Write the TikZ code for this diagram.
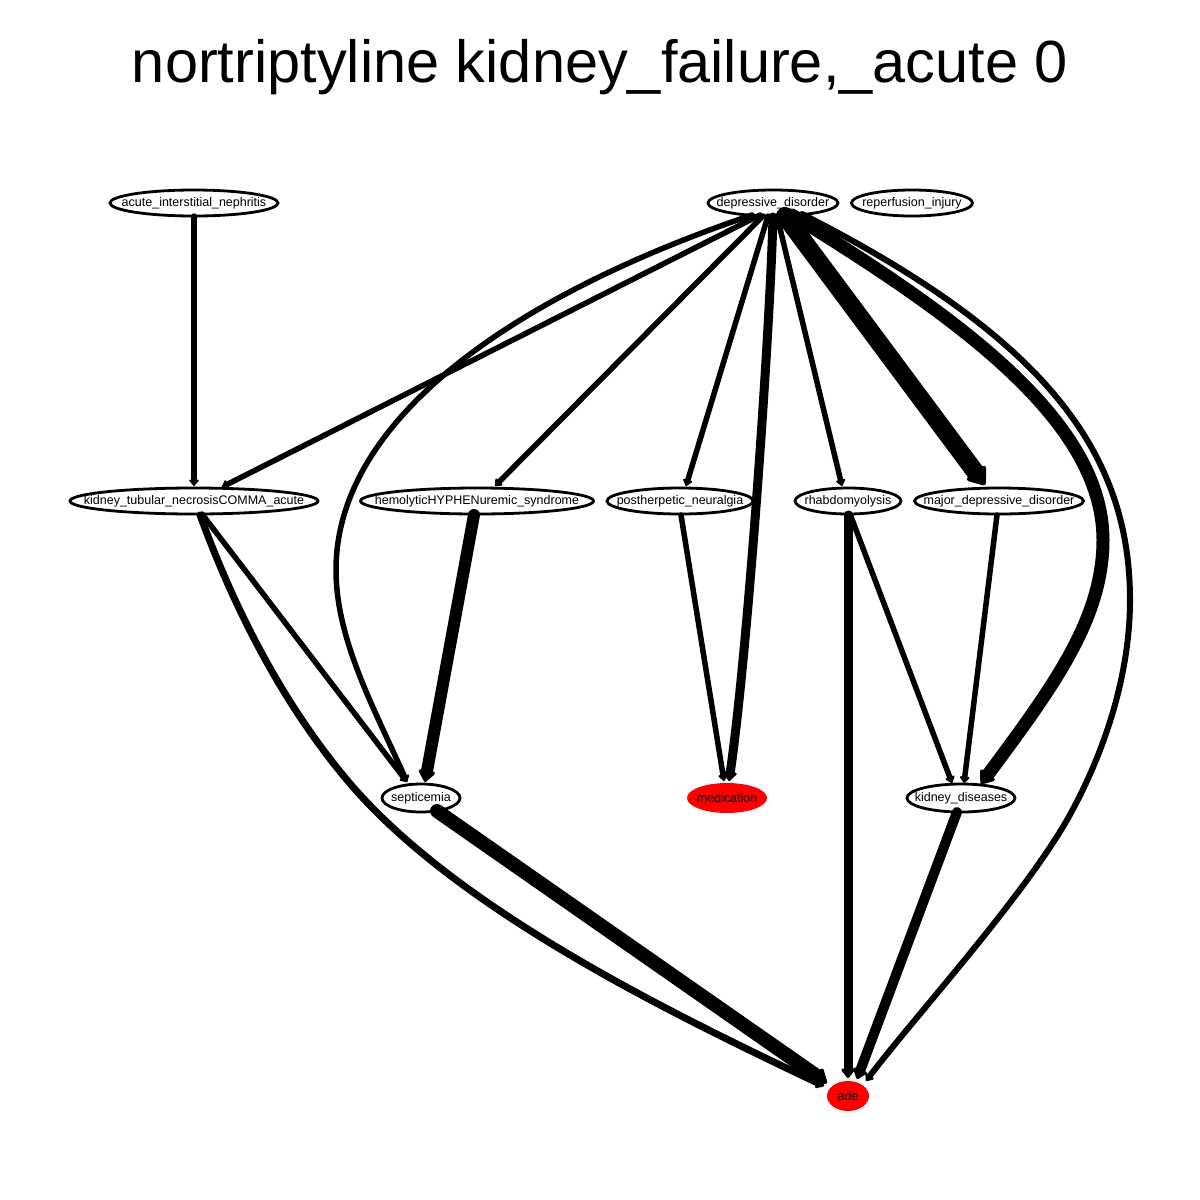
\documentclass[tikz,border=0pt]{standalone}
\usepackage{fontspec}
\usetikzlibrary{shapes.geometric,arrows.meta,calc}
\newfontfamily\lib{Liberation Sans}
\newcommand{\nodefont}{\lib\fontsize{12.5}{14}\selectfont}
\newcommand{\lbl}[1]{\makebox[0pt][c]{#1}}
\tikzset{
  nd/.style={ellipse, draw, line width=2.8pt, fill=white, inner sep=0pt, font=\nodefont},
  rednd/.style={ellipse, fill=red, inner sep=0pt, font=\nodefont},
  conn/.style={line width=#1, line cap=round, line join=round, -{Triangle[round,length=2pt 0.9,width=4pt 1.25]}},
}
\begin{document}
\begin{tikzpicture}[x=1pt,y=-1pt]
\useasboundingbox[fill=white] (0,0) rectangle (1200,1200);
\node[font=\lib\fontsize{59.5}{72}\selectfont, anchor=base] (title) at (600,82) {nortriptyline kidney\_failure,\_acute 0};

\node[nd, minimum width=168, minimum height=26] (ain) at (194,203) {\lbl{acute\_interstitial\_nephritis}};
\node[nd, minimum width=130, minimum height=26] (dd) at (773,203) {\lbl{depressive\_disorder}};
\node[nd, minimum width=121, minimum height=26] (ri) at (912,203) {\lbl{reperfusion\_injury}};
\node[nd, minimum width=248, minimum height=26] (ktn) at (194,501) {\lbl{kidney\_tubular\_necrosisCOMMA\_acute}};
\node[nd, minimum width=233, minimum height=26] (hus) at (477,501) {\lbl{hemolyticHYPHENuremic\_syndrome}};
\node[nd, minimum width=146, minimum height=26] (pn) at (680,501) {\lbl{postherpetic\_neuralgia}};
\node[nd, minimum width=106, minimum height=26] (rh) at (848,501) {\lbl{rhabdomyolysis}};
\node[nd, minimum width=169, minimum height=26] (mdd) at (999,501) {\lbl{major\_depressive\_disorder}};
\node[nd, minimum width=78, minimum height=28] (sep) at (421,798) {\lbl{septicemia}};
\node[rednd, minimum width=80, minimum height=30] (med) at (727,798) {\lbl{medication}};
\node[nd, minimum width=108, minimum height=28] (kd) at (961,798) {\lbl{kidney\_diseases}};
\node[rednd, minimum width=42, minimum height=30] (ade) at (848,1096) {\lbl{ade}};

% edges
\draw[conn=5.5pt] ($(ain)+(0,13)$) -- ($(ktn)+(0,-15)$);
\draw[conn=5.5pt] ($(dd)+(-13,12)$) -- ($(ktn)+(28,-14)$);
\draw[conn=5.5pt] ($(dd)+(-21,12)$) .. controls (512,296) and (336,420) .. (336,570)
   .. controls (336,640) and (375,710) .. ($(sep)+(-14,-16)$);
\draw[conn=5.5pt] ($(dd)+(-10,13)$) -- ($(hus)+(18,-15)$);
\draw[conn=5.5pt] ($(dd)+(-5,13)$) -- ($(pn)+(6,-15)$);
\draw[conn=9pt] ($(dd)+(0,14)$) .. controls (770,330) and (748,650) .. ($(med)+(2,-17)$);
\draw[conn=5.5pt] ($(dd)+(4,13)$) -- ($(rh)+(-6,-15)$);
\draw[conn=18pt] ($(dd)+(12,13)$) -- ($(mdd)+(-14,-16)$);
\draw[conn=13pt] ($(dd)+(19,12)$) .. controls (956,316) and (1103,420) .. (1103,540)
   .. controls (1103,620) and (1052,688) .. ($(kd)+(20,-14)$);
\draw[conn=6pt] ($(dd)+(29,11)$) .. controls (1042,336) and (1130,450) .. (1130,600)
   .. controls (1130,680) and (1101,760) .. (1067,820)
   .. controls (1021,900) and (912,1020) .. ($(ade)+(18,-15)$);
\draw[conn=5.5pt] ($(ktn)+(8,13)$) -- ($(sep)+(-14,-16)$);
\draw[conn=7pt] ($(ktn)+(6,14)$) .. controls (233,605) and (280,700) .. (347,780)
   .. controls (456,910) and (675,1015) .. ($(ade)+(-24,-10)$);
\draw[conn=12pt] ($(hus)+(-3,14)$) -- ($(sep)+(4,-16)$);
\draw[conn=5.5pt] ($(pn)+(1,14)$) -- ($(med)+(-3,-17)$);
\draw[conn=9pt] ($(rh)+(0,14)$) -- ($(ade)+(0,-18)$);
\draw[conn=5.5pt] ($(rh)+(2,13)$) -- ($(kd)+(-9,-15)$);
\draw[conn=5.5pt] ($(mdd)+(-2,14)$) -- ($(kd)+(3,-15)$);
\draw[conn=14pt] ($(sep)+(16,13)$) -- ($(ade)+(-21,-13)$);
\draw[conn=10pt] ($(kd)+(-4,14)$) -- ($(ade)+(9,-17)$);
\end{tikzpicture}
\end{document}
